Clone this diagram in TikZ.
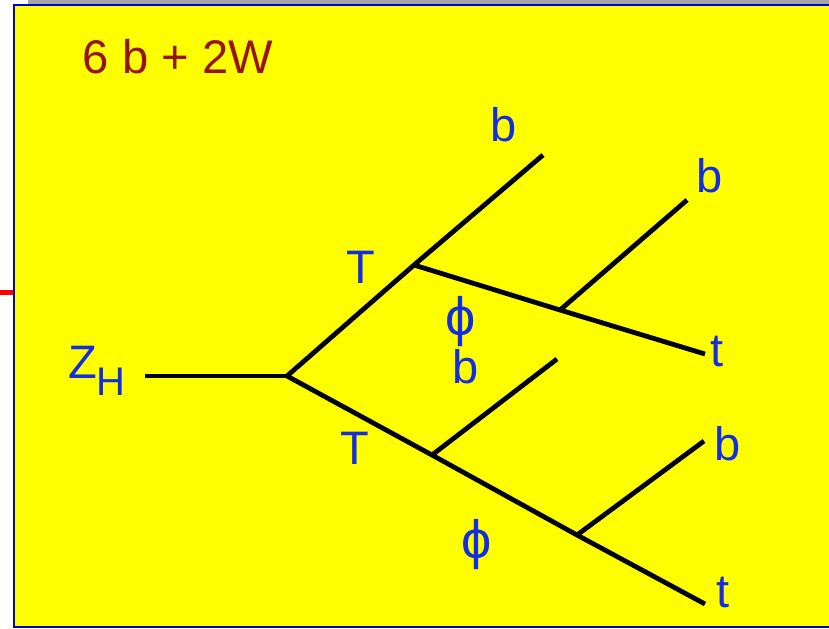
\documentclass[tikz,border=0pt]{standalone}
\usepackage{fontspec}
\setmainfont{Liberation Sans}
\definecolor{labelblue}{RGB}{20,45,225}
\definecolor{titlered}{RGB}{150,20,0}
\definecolor{paneyellow}{RGB}{255,255,0}
\begin{document}
\begin{tikzpicture}[x=0.5pt, y=-0.5pt,
        leg/.style={line width=2.4pt, line cap=butt},
        lbl/.style={text=labelblue, font=\fontsize{23.5}{27}\selectfont, inner sep=0pt},
        philbl/.style={lbl, font=\fontsize{27}{30}\selectfont}]

        % (x, y): x to the right, y downwards, in pixels of the slide
        \useasboundingbox (0, 0) rectangle (829, 628);

        % the slide
        \fill[gray!70] (28, 0) rectangle (829, 5);
        \begin{scope}
            \clip (0, 0) rectangle (829, 628);
            \filldraw[fill=paneyellow, draw=blue!85!black, line width=1.2pt] (14, 5) rectangle (840, 627);
        \end{scope}
        \draw[red, line width=2.5pt] (0, 292) -- (13, 292);

        \node[text=titlered, font=\fontsize{23.6}{27}\selectfont, inner sep=0pt] (title) at (178, 57) {6 b + 2W};

        % vertices
        \coordinate (zh) at (145, 376);
        \coordinate (a) at (287, 376);
        \coordinate (b1) at (414, 265);
        \coordinate (b1end) at (543, 155);
        \coordinate (c1) at (560, 310);
        \coordinate (c1end) at (687, 200);
        \coordinate (t1end) at (705, 354);
        \coordinate (b2) at (432, 455);
        \coordinate (b2end) at (557, 359);
        \coordinate (c2) at (577, 535);
        \coordinate (c2end) at (704, 441);
        \coordinate (t2end) at (705, 604);

        \draw[leg] (zh) -- (a);
        \draw[leg] (a) -- (b1) -- (b1end);
        \draw[leg] (b1) -- (c1) -- (t1end);
        \draw[leg] (c1) -- (c1end);
        \draw[leg] (a) -- (b2) -- (c2) -- (t2end);
        \draw[leg] (b2) -- (b2end);
        \draw[leg] (c2) -- (c2end);

        % labels
        \node[lbl] (zhlabel) at (97, 371) {Z\raisebox{-8.5pt}{\fontsize{20}{23}\selectfont H}};
        \node[lbl] (tup) at (361, 267) {T};
        \node[lbl] (tdown) at (355, 448) {T};
        \node[philbl] (phiup) at (461, 322) {ϕ};
        \node[philbl] (phidown) at (477, 545) {ϕ};
        \node[lbl] (bup) at (504, 125) {b};
        \node[lbl] (bmid) at (466, 367) {b};
        \node[lbl] (bright) at (710, 176) {b};
        \node[lbl] (blow) at (728, 444) {b};
        \node[lbl] (tright) at (717, 351) {t};
        \node[lbl] (tlow) at (723, 592) {t};

    \end{tikzpicture}
\end{document}
